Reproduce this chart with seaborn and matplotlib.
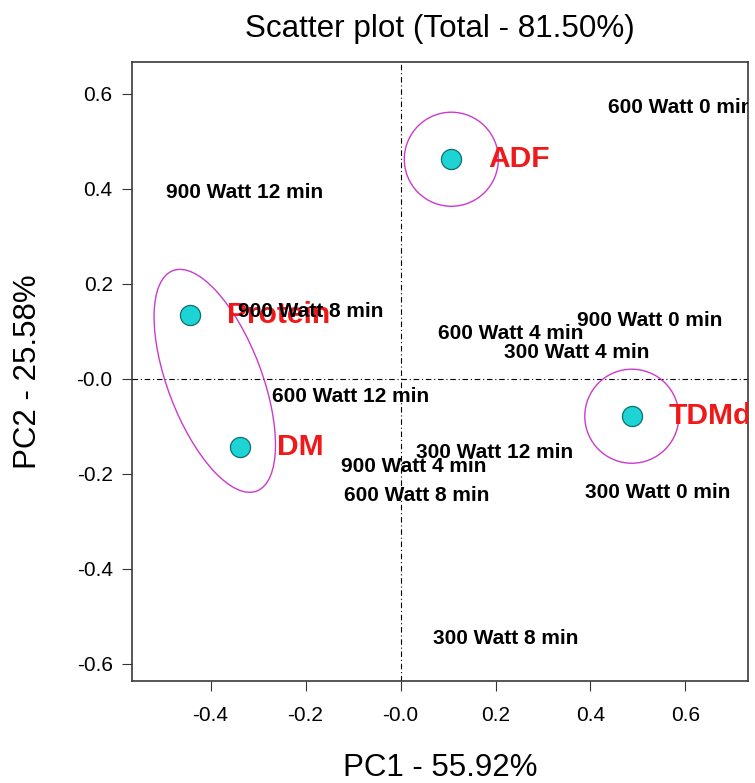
import numpy as np
import pandas as pd
import matplotlib
matplotlib.use("Agg")
import matplotlib.pyplot as plt
import seaborn as sns
from matplotlib.patches import Ellipse

# ---------------- data ----------------
title = "Scatter plot (Total - 81.50%)"
x_label = "PC1 - 55.92%"
y_label = "PC2 - 25.58%"

var_names = ["Protein", "DM", "ADF", "TDMd"]
var_pc1 = [-0.444, -0.338, 0.107, 0.487]
var_pc2 = [0.135, -0.144, 0.462, -0.079]
var_group = [1, 1, 2, 3]

obs_names = ["600 Watt 0 min", "900 Watt 12 min", "900 Watt 8 min", "900 Watt 0 min",
             "600 Watt 4 min", "300 Watt 4 min", "600 Watt 12 min", "300 Watt 12 min",
             "900 Watt 4 min", "600 Watt 8 min", "300 Watt 0 min", "300 Watt 8 min"]
obs_pc1 = [0.589, -0.328, -0.189, 0.524, 0.231, 0.370, -0.105, 0.198, 0.028, 0.035, 0.542, 0.221]
obs_pc2 = [0.576, 0.397, 0.146, 0.127, 0.099, 0.060, -0.034, -0.150, -0.180, -0.241, -0.236, -0.542]

x_ticks = [-0.4, -0.2, 0.0, 0.2, 0.4, 0.6]
x_tick_labels = ["-0.4", "-0.2", "-0.0", "0.2", "0.4", "0.6"]
y_ticks = [0.6, 0.4, 0.2, 0.0, -0.2, -0.4, -0.6]
y_tick_labels = ["0.6", "0.4", "0.2", "-0.0", "-0.2", "-0.4", "-0.6"]

# ---------------- style ----------------
sns.set_theme(style="white")
plt.rcParams["font.family"] = ["Liberation Sans", "DejaVu Sans"]

W, H = 755, 783
fig = plt.figure(figsize=(W / 100, H / 100), dpi=100)
ax = fig.add_axes([132 / W, 1 - 681 / H, 616 / W, 619 / H])

ax.set_xlim(-0.5653, 0.7316)
ax.set_ylim(-0.6364, 0.6667)

# zero reference lines
dash = (0, (5, 2.5, 1, 2.5))
ax.axhline(0, color="black", lw=0.8, ls=dash, zorder=1)
ax.axvline(0, color="black", lw=0.8, ls=dash, zorder=1)

# group ellipses derived from variable positions
pad_r = 0.099
vdf = pd.DataFrame({"name": var_names, "pc1": var_pc1, "pc2": var_pc2, "group": var_group})
for g, sub in vdf.groupby("group"):
    xs = sub["pc1"].to_numpy()
    ys = sub["pc2"].to_numpy()
    cx, cy = xs.mean(), ys.mean()
    if len(sub) > 1:
        dx, dy = xs[-1] - xs[0], ys[-1] - ys[0]
        dist = np.hypot(dx, dy)
        ang = np.degrees(np.arctan2(dy, dx))
    else:
        dist, ang = 0.0, 0.0
    ell = Ellipse((cx, cy), width=dist + 2 * pad_r, height=2 * pad_r, angle=ang,
                  fill=False, edgecolor="#CC3ACC", lw=1.0, zorder=2)
    ax.add_patch(ell)

# variable points
sns.scatterplot(data=vdf, x="pc1", y="pc2", ax=ax, s=210, color="#1ED3D3",
                edgecolor="#0E6F70", linewidth=0.9, zorder=4, legend=False)

for n, x, y in zip(var_names, var_pc1, var_pc2):
    ax.annotate(n, (x, y), xytext=(26.6, 0), textcoords="offset points",
                ha="left", va="center", fontsize=21.6, fontweight="bold",
                color="#F01818", zorder=5, annotation_clip=False, clip_on=True)

# observation labels
for n, x, y in zip(obs_names, obs_pc1, obs_pc2):
    ax.annotate(n, (x, y), xytext=(0, -1.5), textcoords="offset points",
                ha="center", va="center", fontsize=15, fontweight="bold",
                color="black", zorder=6, clip_on=True)

# axes cosmetics
ax.set_xticks(x_ticks)
ax.set_xticklabels(x_tick_labels)
ax.set_yticks(y_ticks)
ax.set_yticklabels(y_tick_labels)
ax.tick_params(axis="both", which="major", direction="out", length=7.2, width=0.8,
               color="#333333", labelsize=15, labelcolor="black")
ax.tick_params(axis="x", pad=10.5)
ax.tick_params(axis="y", pad=6.7)
ax.xaxis.set_ticks_position("bottom")
ax.yaxis.set_ticks_position("left")
for sp in ax.spines.values():
    sp.set_visible(True)
    sp.set_color("#3a3a3a")
    sp.set_linewidth(1.2)

ax.set_title(title, fontsize=22.6, pad=17.8, color="black")
ax.set_xlabel(x_label, fontsize=22.5, color="black")
ax.set_ylabel(y_label, fontsize=22.5, color="black")
ax.xaxis.set_label_coords(0.5, -0.1171)
ax.yaxis.set_label_coords(-0.1442, 0.5)

fig.savefig("out.png", dpi=100)
